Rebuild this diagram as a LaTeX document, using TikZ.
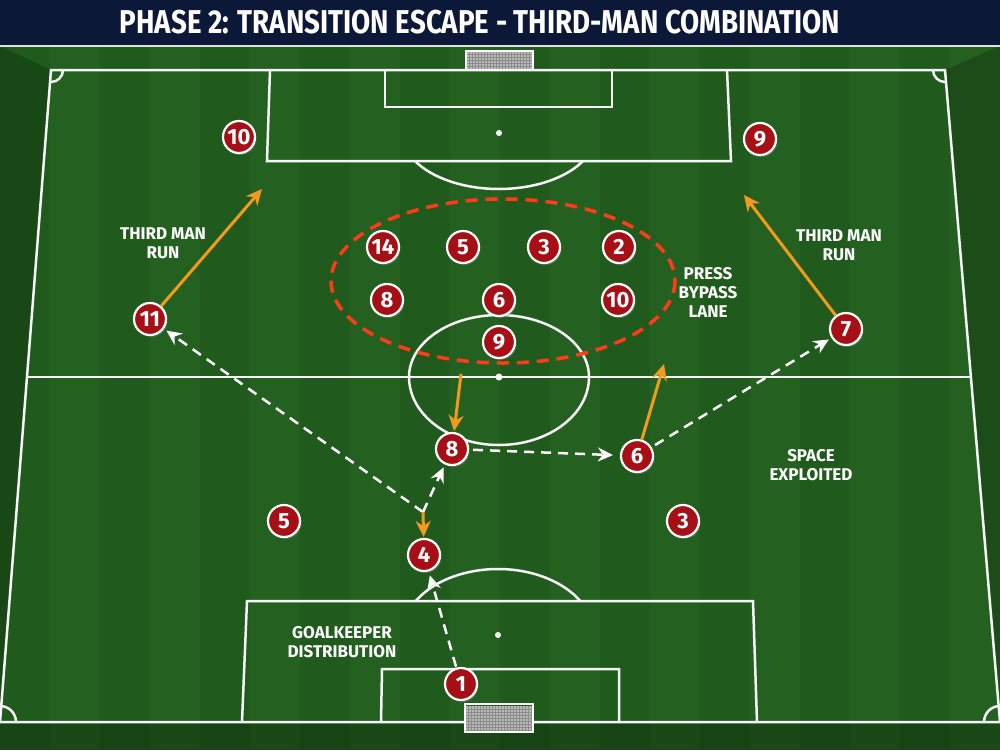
\documentclass[tikz,border=0pt]{standalone}
\usepackage{fontspec}
\newfontfamily\condfont[FakeStretch=0.84]{Fira Sans}
\newfontfamily\labelfont{Fira Sans}
\usetikzlibrary{positioning,shapes,arrows.meta,shadows,calc}
\definecolor{navy}{HTML}{0C1838}
\definecolor{grass}{HTML}{205B1D}
\definecolor{grasslight}{HTML}{246120}
\definecolor{shirt}{HTML}{A50F15}
\definecolor{runorange}{HTML}{F39A1E}
\definecolor{pressred}{HTML}{FF3B1A}
\tikzstyle{pl}=[%
      circle, draw=white, line width=2.2pt, fill=shirt,
      drop shadow={opacity=0.45, shadow xshift=1.5pt, shadow yshift=-2pt},
      text=white, font=\labelfont\bfseries\fontsize{22}{22}\selectfont,
      minimum size=32pt, inner sep=0pt
]
\tikzstyle{lbl}=[%
      text=white, font=\labelfont\bfseries\fontsize{17}{19}\selectfont, align=center
]
\tikzstyle{pass}=[%
      draw=white, line width=2.5pt, dash pattern=on 10pt off 7pt,
      -{Stealth[length=15pt,width=14pt]}
]
\tikzstyle{run}=[%
      draw=runorange, line width=3pt, -{Stealth[length=16pt,width=15pt]}
]
\tikzstyle{ln}=[draw=white!94!gray, line width=2.5pt]
\tikzstyle{net}=[draw=black!45, line width=0.5pt]

\begin{document}
\begin{tikzpicture}[x=1pt, y=-1pt]
    \useasboundingbox (0,0) rectangle (1000,750);
    % grass and stripes
    \fill[grass] (0,46) rectangle (1000,750);
    \foreach \s in {50,150,...,950}
        \fill[grasslight] (\s,46) rectangle ++(50,704);
    \fill[black, opacity=0.2] (0,46) -- (51,70) -- (0,722) -- cycle;
    \fill[black, opacity=0.2] (1000,46) -- (945,70) -- (1000,722) -- cycle;
    \fill[black, opacity=0.25] (0,722) rectangle (1000,750);
    % title bar
    \fill[navy] (0,0) rectangle (1000,45);
    \draw[white!75!gray, line width=1.5pt] (0,46) -- (1000,46);
    \node[text=white, font=\condfont\bfseries\fontsize{33}{33}\selectfont] (title) at (480,22)
        {PHASE 2: TRANSITION ESCAPE - THIRD-MAN COMBINATION};

    % pitch lines
    \draw[ln] (51,70) -- (945,70) -- (1000,722) -- (0,722) -- cycle;
    \draw[ln] (27,377) -- (972,377);
    \draw[ln] (499,377) ++(180:90 and 62) arc[start angle=180, end angle=360, x radius=90, y radius=62];
    \draw[ln] (499,377) ++(0:90 and 68) arc[start angle=0, end angle=180, x radius=90, y radius=68];
    \fill[white] (499,377) circle[radius=3.5pt];
    \draw[ln] (63,70) arc[start angle=0, end angle=90, radius=12];
    \draw[ln] (945,82) arc[start angle=90, end angle=180, radius=12];
    \draw[ln] (0,706) arc[start angle=270, end angle=360, radius=16];
    \draw[ln] (984,722) arc[start angle=180, end angle=270, radius=16];
    % top end
    \draw[ln] (270,70) -- (267,161) -- (731,161) -- (727,70);
    \draw[ln] (385,70) -- (385,107) -- (612,107) -- (612,70);
    \fill[white] (499,133) circle[radius=3pt];
    \draw[ln] (499,133) ++(30:97 and 56) arc[start angle=30, end angle=150, x radius=97, y radius=56];
    % bottom end
    \draw[ln] (242,722) -- (247,601) -- (753,601) -- (757,722);
    \draw[ln] (381,722) -- (382,669) -- (619,669) -- (619,722);
    \fill[white] (498,635) circle[radius=3pt];
    \draw[ln] (498,635) ++(211:96 and 66) arc[start angle=211, end angle=329, x radius=96, y radius=66];
    % goals
    \fill[gray!55] (466,51) rectangle (533,69);
    \foreach \g in {469,472,...,531} \draw[net] (\g,51) -- (\g,69);
    \foreach \g in {54,57,...,68} \draw[net] (466,\g) -- (533,\g);
    \draw[white, line width=2.5pt] (466,69) -- (466,51) -- (533,51) -- (533,69);
    \fill[gray!55] (465,706) rectangle (533,731);
    \foreach \g in {468,471,...,531} \draw[net] (\g,706) -- (\g,731);
    \foreach \g in {709,712,...,730} \draw[net] (465,\g) -- (533,\g);
    \draw[white, line width=2.5pt] (465,704) rectangle (533,732);

    % pressing block
    \draw[pressred, line width=3.5pt, dash pattern=on 12pt off 8pt] (503,281) ellipse[x radius=172, y radius=82];

    % opponents
    \node[pl] (d10) at (239,137) {10};
    \node[pl] (d9a) at (760,139) {9};
    \node[pl] (d14) at (383,247) {14};
    \node[pl] (d5)  at (463,247) {5};
    \node[pl] (d3)  at (544,247) {3};
    \node[pl] (d2)  at (619,247) {2};
    \node[pl] (d8)  at (387,300) {8};
    \node[pl] (d6)  at (499,300) {6};
    \node[pl] (d10b) at (618,300) {10};
    \node[pl] (d9)  at (499,342) {9};

    % own team
    \node[pl] (1)  at (461,684) {1};
    \node[pl] (4)  at (424,555) {4};
    \node[pl] (5)  at (284,521) {5};
    \node[pl] (3)  at (683,521) {3};
    \node[pl] (8)  at (452,449) {8};
    \node[pl] (6)  at (637,456) {6};
    \node[pl] (11) at (150,319) {11};
    \node[pl] (7)  at (846,329) {7};

    % labels
    \node[lbl] (tmleft)  at (163,243) {THIRD MAN\\RUN};
    \node[lbl] (tmright) at (839,245) {THIRD MAN\\RUN};
    \node[lbl] (bypass)  at (708,292) {PRESS\\BYPASS\\LANE};
    \node[lbl] (space)   at (811,465) {SPACE\\EXPLOITED};
    \node[lbl] (gk)      at (342,642) {GOALKEEPER\\DISTRIBUTION};

    % free ends of the runs
    \coordinate (k4)  at (423,512);
    \coordinate (k8)  at (461,374);
    \coordinate (r11) at (262,189);
    \coordinate (r7)  at (744,195);
    \coordinate (r6)  at (664,364);

    \path (1)  edge[pass, shorten <=1pt, shorten >=4pt] (4)
          (k4) edge[pass, shorten >=3pt] (8)
          (k4) edge[pass, shorten >=3pt] (11)
          (8)  edge[pass, shorten <=4pt, shorten >=7pt] (6)
          (6)  edge[pass, shorten <=4pt, shorten >=3pt] (7)
          (k4) edge[run, shorten >=1pt] (4)
          (k8) edge[run, shorten >=1pt] (8)
          (11) edge[run] (r11)
          (7)  edge[run] (r7)
          (6)  edge[run] (r6)
    ;
\end{tikzpicture}
\end{document}
